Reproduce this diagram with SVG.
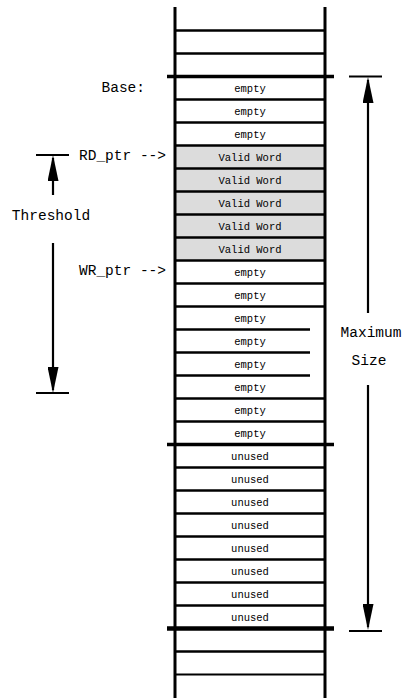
<svg xmlns="http://www.w3.org/2000/svg" width="404" height="698" viewBox="0 0 404 698">
<style>
.bg{fill:#ffffff}
.grey{fill:#dcdcdc}
.v{stroke:#000;stroke-width:3;fill:none}
.h{stroke:#000;stroke-width:2.6;fill:none}
.w{stroke:#000;stroke-width:3.6;fill:none}
.dim{stroke:#000;stroke-width:2.2;fill:none}
.cell{font-family:"Liberation Mono","DejaVu Sans Mono",monospace;font-size:10.5px;fill:#000;text-anchor:middle}
.lbl{font-family:"Liberation Mono","DejaVu Sans Mono",monospace;font-size:14.5px;fill:#000}
</style>
<defs>
<marker id="ah" viewBox="0 0 26 11" markerWidth="26" markerHeight="11" markerUnits="userSpaceOnUse" refX="23" refY="5.5" orient="auto">
<path d="M0,0 L26,5.5 L0,11 Z" fill="#000"/>
</marker>
</defs>
<rect class="bg" x="0" y="0" width="404" height="698"/>

<g id="valid-region">
<rect class="grey" x="175" y="145.5" width="150" height="115"/>
</g>

<g id="cells">
<g id="row2"><text class="cell" x="250" y="91.5">empty</text></g>
<g id="row3"><text class="cell" x="250" y="114.5">empty</text></g>
<g id="row4"><text class="cell" x="250" y="137.5">empty</text></g>
<g id="row5"><text class="cell" x="250" y="160.5">Valid Word</text></g>
<g id="row6"><text class="cell" x="250" y="183.5">Valid Word</text></g>
<g id="row7"><text class="cell" x="250" y="206.5">Valid Word</text></g>
<g id="row8"><text class="cell" x="250" y="229.5">Valid Word</text></g>
<g id="row9"><text class="cell" x="250" y="252.5">Valid Word</text></g>
<g id="row10"><text class="cell" x="250" y="275.5">empty</text></g>
<g id="row11"><text class="cell" x="250" y="298.5">empty</text></g>
<g id="row12"><text class="cell" x="250" y="321.5">empty</text></g>
<g id="row13"><text class="cell" x="250" y="344.5">empty</text></g>
<g id="row14"><text class="cell" x="250" y="367.5">empty</text></g>
<g id="row15"><text class="cell" x="250" y="390.5">empty</text></g>
<g id="row16"><text class="cell" x="250" y="413.5">empty</text></g>
<g id="row17"><text class="cell" x="250" y="436.5">empty</text></g>
<g id="row18"><text class="cell" x="250" y="459.5">unused</text></g>
<g id="row19"><text class="cell" x="250" y="482.5">unused</text></g>
<g id="row20"><text class="cell" x="250" y="505.5">unused</text></g>
<g id="row21"><text class="cell" x="250" y="528.5">unused</text></g>
<g id="row22"><text class="cell" x="250" y="551.5">unused</text></g>
<g id="row23"><text class="cell" x="250" y="574.5">unused</text></g>
<g id="row24"><text class="cell" x="250" y="597.5">unused</text></g>
<g id="row25"><text class="cell" x="250" y="620.5">unused</text></g>
</g>

<g id="memory-lines">
<line class="v" x1="175" y1="7" x2="175" y2="698"/>
<line class="v" x1="325" y1="7" x2="325" y2="698"/>
<line class="h" x1="175" y1="30.5" x2="325" y2="30.5"/>
<line class="h" x1="175" y1="53.5" x2="325" y2="53.5"/>
<line class="w" x1="167" y1="76.5" x2="334" y2="76.5"/>
<line class="h" x1="175" y1="99.5" x2="325" y2="99.5"/>
<line class="h" x1="175" y1="122.5" x2="325" y2="122.5"/>
<line class="h" x1="175" y1="145.5" x2="325" y2="145.5"/>
<line class="h" x1="175" y1="168.5" x2="325" y2="168.5"/>
<line class="h" x1="175" y1="191.5" x2="325" y2="191.5"/>
<line class="h" x1="175" y1="214.5" x2="325" y2="214.5"/>
<line class="h" x1="175" y1="237.5" x2="325" y2="237.5"/>
<line class="h" x1="175" y1="260.5" x2="325" y2="260.5"/>
<line class="h" x1="175" y1="283.5" x2="325" y2="283.5"/>
<line class="h" x1="175" y1="306.5" x2="325" y2="306.5"/>
<line class="h" x1="175" y1="329.5" x2="310" y2="329.5"/>
<line class="h" x1="175" y1="352.5" x2="310" y2="352.5"/>
<line class="h" x1="175" y1="375.5" x2="310" y2="375.5"/>
<line class="h" x1="175" y1="398.5" x2="325" y2="398.5"/>
<line class="h" x1="175" y1="421.5" x2="325" y2="421.5"/>
<line class="w" x1="167" y1="444.5" x2="334" y2="444.5"/>
<line class="h" x1="175" y1="467.5" x2="325" y2="467.5"/>
<line class="h" x1="175" y1="490.5" x2="325" y2="490.5"/>
<line class="h" x1="175" y1="513.5" x2="325" y2="513.5"/>
<line class="h" x1="175" y1="536.5" x2="325" y2="536.5"/>
<line class="h" x1="175" y1="559.5" x2="325" y2="559.5"/>
<line class="h" x1="175" y1="582.5" x2="325" y2="582.5"/>
<line class="h" x1="175" y1="605.5" x2="325" y2="605.5"/>
<line class="w" x1="167" y1="628.5" x2="334" y2="628.5" style="stroke-width:4.5"/>
<line class="h" x1="175" y1="651.5" x2="325" y2="651.5"/>
<line class="h" x1="175" y1="674.5" x2="325" y2="674.5" style="stroke-width:2"/>
</g>

<g id="labels">
<text class="lbl" x="145" y="92" text-anchor="end">Base:</text>
<text class="lbl" x="166" y="160" text-anchor="end">RD_ptr --&gt;</text>
<text class="lbl" x="166" y="275" text-anchor="end">WR_ptr --&gt;</text>
<text class="lbl" x="51" y="220" text-anchor="middle">Threshold</text>
<text class="lbl" x="371" y="337" text-anchor="middle">Maximum</text>
<text class="lbl" x="369" y="365" text-anchor="middle">Size</text>
</g>

<g id="connectors">
<line class="dim" x1="36" y1="155" x2="69" y2="155"/>
<line class="dim" x1="53" y1="195" x2="53" y2="158" marker-end="url(#ah)"/>
<line class="dim" x1="53" y1="243" x2="53" y2="390" marker-end="url(#ah)"/>
<line class="dim" x1="36" y1="393" x2="69" y2="393"/>
<line class="dim" x1="349" y1="76.5" x2="382" y2="76.5"/>
<line class="dim" x1="368" y1="313" x2="368" y2="80" marker-end="url(#ah)"/>
<line class="dim" x1="368" y1="385" x2="368" y2="627" marker-end="url(#ah)"/>
<line class="dim" x1="349" y1="631" x2="382" y2="631"/>
</g>
</svg>
